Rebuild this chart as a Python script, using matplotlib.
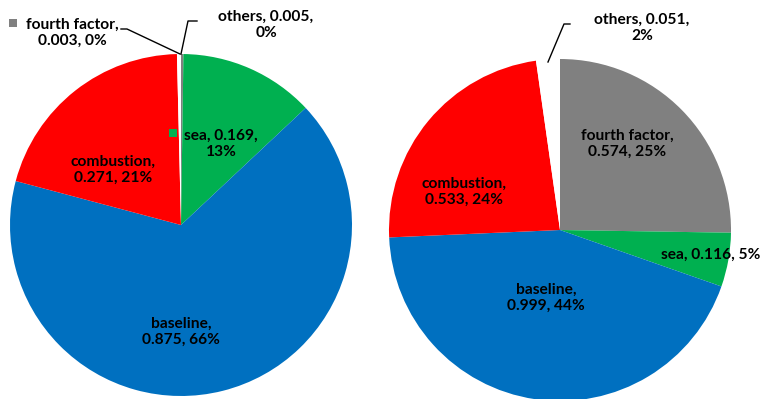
import matplotlib
matplotlib.use("Agg")
import matplotlib.pyplot as plt

# data
names = ["fourth factor", "sea", "baseline", "combustion", "others"]
left_values = [0.003, 0.169, 0.875, 0.271, 0.005]
left_pcts = [0, 13, 66, 21, 0]
right_values = [0.574, 0.116, 0.999, 0.533, 0.051]
right_pcts = [25, 5, 44, 24, 2]
colors = ["#808080", "#00B050", "#0070C0", "#FF0000", "#FFFFFF"]

W, H = 762, 399
plt.rcParams["font.family"] = ["Lato", "DejaVu Sans"]

fig = plt.figure(figsize=(W / 100, H / 100), dpi=100)
ax = fig.add_axes([0, 0, 1, 1])


def py(y):
    # pixel row -> data y (data y goes up)
    return H - y


def draw_pie(values, center, radius):
    ax.pie(values, colors=colors, startangle=90, counterclock=False,
           center=(center[0], py(center[1])), radius=radius,
           wedgeprops=dict(linewidth=0))


def label(text, x, y, ha="center"):
    ax.text(x, py(y), text, ha=ha, va="center", fontsize=11.2,
            fontweight="bold", color="black", linespacing=1.15)


def fmt(i, values, pcts, sep1=", ", sep2=", "):
    return f"{names[i]}{sep1}{values[i]:.3f}{sep2}{pcts[i]}%"


draw_pie(left_values, (181, 225), 171)
draw_pie(right_values, (560, 230), 171)

# left pie labels
label(fmt(0, left_values, left_pcts, ",\n"), 72, 33)
ax.plot([13], [py(23)], marker="s", ms=5.5, color=colors[0], mew=0)
label(fmt(4, left_values, left_pcts, ", ", ",\n"), 266, 25)
label(fmt(1, left_values, left_pcts, ", ", ",\n"), 221, 144)
ax.plot([173], [py(133)], marker="s", ms=5.5, color=colors[1], mew=0)
label(fmt(3, left_values, left_pcts, ",\n"), 113, 170)
label(fmt(2, left_values, left_pcts, ",\n"), 181, 332)

# right pie labels
label(fmt(4, right_values, right_pcts, ", ", ",\n"), 642, 28)
label(fmt(0, right_values, right_pcts, ",\n"), 627, 144)
label(fmt(3, right_values, right_pcts, ",\n"), 464, 192)
label(fmt(1, right_values, right_pcts), 711, 255)
label(fmt(2, right_values, right_pcts, ",\n"), 546, 298)

# leader lines
ax.plot([121, 127, 180], [py(29), py(29), py(54)], color="black", lw=1)
ax.plot([197, 188, 181], [py(21), py(21), py(54)], color="black", lw=1)
ax.plot([570, 564, 548], [py(24), py(24), py(62)], color="black", lw=1)

ax.set_xlim(0, W)
ax.set_ylim(0, H)
ax.set_aspect("equal")
ax.axis("off")

fig.savefig("out.png", dpi=100, facecolor="white")
